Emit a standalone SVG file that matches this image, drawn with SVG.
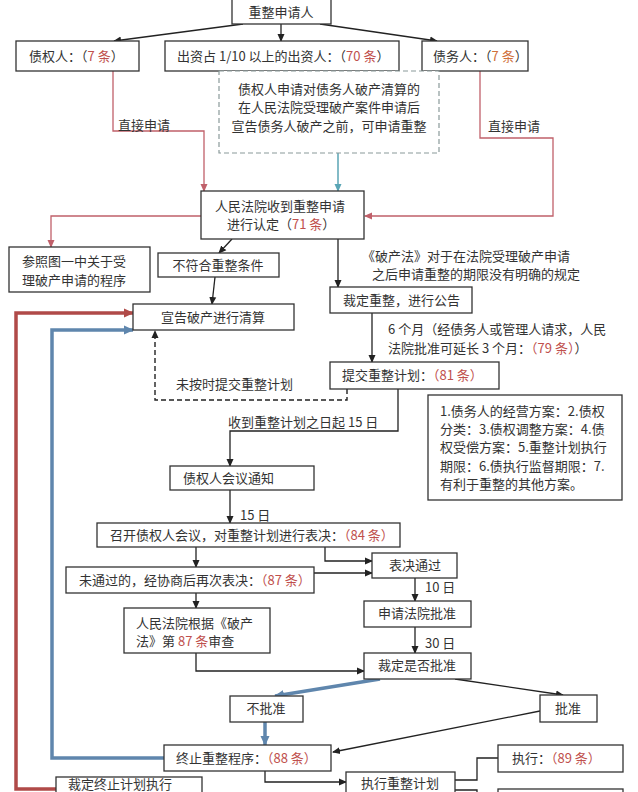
<svg xmlns="http://www.w3.org/2000/svg" width="638" height="792" viewBox="0 0 638 792">
<style>
text{font-family:"Noto Sans CJK SC","Liberation Sans",sans-serif;font-size:13px;fill:#333}
.m{text-anchor:middle}
.r{fill:#c0504d}
.box{fill:#fff;stroke:#333;stroke-width:1.3}
.dbox{fill:#fff;stroke:#8a9a9a;stroke-width:1.2;stroke-dasharray:5 3}
.k{fill:none;stroke:#222;stroke-width:1.3}
.kd{fill:none;stroke:#222;stroke-width:1.4;stroke-dasharray:5 3}
.pr{fill:none;stroke:#c0606a;stroke-width:1.3}
.tl{fill:none;stroke:#5aa5b5;stroke-width:1.5}
.rt{fill:none;stroke:#b04a48;stroke-width:3.5}
.bt{fill:none;stroke:#5f86ad;stroke-width:3.5}
</style>
<defs>
<marker id="ak" markerWidth="8" markerHeight="8" refX="7" refY="4" orient="auto" markerUnits="userSpaceOnUse"><path d="M0,0.5 L8,4 L0,7.5 Z" fill="#222"/></marker>
<marker id="ar" markerWidth="8" markerHeight="8" refX="7" refY="4" orient="auto" markerUnits="userSpaceOnUse"><path d="M0,0.5 L8,4 L0,7.5 Z" fill="#c0606a"/></marker>
<marker id="at" markerWidth="8" markerHeight="8" refX="7" refY="4" orient="auto" markerUnits="userSpaceOnUse"><path d="M0,0.5 L8,4 L0,7.5 Z" fill="#5aa5b5"/></marker>
<marker id="art" markerWidth="10" markerHeight="10" refX="9" refY="5" orient="auto" markerUnits="userSpaceOnUse"><path d="M0,0.5 L10,5 L0,9.5 Z" fill="#b04a48"/></marker>
<marker id="abt" markerWidth="10" markerHeight="10" refX="9" refY="5" orient="auto" markerUnits="userSpaceOnUse"><path d="M0,0.5 L10,5 L0,9.5 Z" fill="#5f86ad"/></marker>
</defs>
<rect width="638" height="792" fill="#fff"/>

<g id="connectors">
<path class="k" d="M243,24 L114,41" marker-end="url(#ak)"/>
<path class="k" d="M281,24 L281,41" marker-end="url(#ak)"/>
<path class="k" d="M320,24 L437,41" marker-end="url(#ak)"/>
<path class="pr" d="M113,71 L113,131 L204,131 L204,191" marker-end="url(#ar)"/>
<path class="pr" d="M480,71 L480,138 L553,138 L553,216 L365,216" marker-end="url(#ar)"/>
<path class="tl" d="M338,153 L338,191" marker-end="url(#at)"/>
<path class="pr" d="M201,216 L51,216 L51,247" marker-end="url(#ar)"/>
<path class="k" d="M232,239 L219,253" marker-end="url(#ak)"/>
<path class="k" d="M215,277 L212,304" marker-end="url(#ak)"/>
<path class="k" d="M338,239 L338,287" marker-end="url(#ak)"/>
<path class="k" d="M372,313 L372,362" marker-end="url(#ak)"/>
<path class="kd" d="M347,389 L347,400 L155,400 L155,331" marker-end="url(#ak)"/>
<path class="k" d="M398,389 L398,431 L230,431 L230,466" marker-end="url(#ak)"/>
<path class="k" d="M230,490 L230,523" marker-end="url(#ak)"/>
<path class="k" d="M196,547 L196,567" marker-end="url(#ak)"/>
<path class="k" d="M325,547 L325,561 L372,561" marker-end="url(#ak)"/>
<path class="k" d="M314,573 L372,573" marker-end="url(#ak)"/>
<path class="k" d="M196,593 L196,608" marker-end="url(#ak)"/>
<path class="k" d="M415,578 L415,601" marker-end="url(#ak)"/>
<path class="k" d="M415,627 L415,653" marker-end="url(#ak)"/>
<path class="k" d="M196,653 L196,671 L364,671" marker-end="url(#ak)"/>
<path class="bt" d="M380,679 L275,696" marker-end="url(#abt)"/>
<path class="k" d="M455,679 L563,695" marker-end="url(#ak)"/>
<path class="bt" d="M265,722 L265,745" marker-end="url(#abt)"/>
<path class="k" d="M540,711 L333,752" marker-end="url(#ak)"/>
<path class="bt" d="M164,758 L52,758 L52,330 L133,330" marker-end="url(#abt)"/>
<path class="rt" d="M56,789 L16,789 L16,313 L133,313" marker-end="url(#art)"/>
<path class="k" d="M265,771 L265,782 L346,782" marker-end="url(#ak)"/>
<path class="k" d="M455,780 L477,780 L477,758 L498,758"/>
<path class="k" d="M455,790 L477,790 L477,795"/>
<text x="118" y="130">直接申请</text>
<text x="488" y="131">直接申请</text>
<text x="362" y="261">《破产法》对于在法院受理破产申请</text>
<text x="372" y="279">之后申请重整的期限没有明确的规定</text>
<text x="388" y="334">6 个月（经债务人或管理人请求，人民</text>
<text x="388" y="353">法院批准可延长 3 个月：<tspan class="r">（79 条）</tspan>）</text>
<text x="176" y="389">未按时提交重整计划</text>
<text x="228" y="427">收到重整计划之日起 15 日</text>
<text x="240" y="520">15 日</text>
<text x="425" y="592">10 日</text>
<text x="425" y="648">30 日</text>
</g>

<g id="n-applicant"><rect class="box" x="232" y="-1" width="99" height="25"/><text class="m" x="281" y="16.5">重整申请人</text></g>
<g id="n-creditor"><rect class="box" x="16" y="41" width="123" height="30"/><text x="29" y="60.5">债权人：（<tspan class="r">7 条</tspan>）</text></g>
<g id="n-investor"><rect class="box" x="165" y="41" width="234" height="30"/><text x="177" y="60.5">出资占 1/10 以上的出资人：（<tspan class="r">70 条</tspan>）</text></g>
<g id="n-debtor"><rect class="box" x="422" y="41" width="106" height="30"/><text x="433" y="60.5">债务人：（<tspan fill="#d0703a">7 条</tspan>）</text></g>
<g id="n-note-creditor"><rect class="dbox" x="219" y="71" width="220" height="82"/>
<text class="m" x="329" y="94">债权人申请对债务人破产清算的</text>
<text class="m" x="329" y="112">在人民法院受理破产案件申请后</text>
<text class="m" x="329" y="131">宣告债务人破产之前，可申请重整</text></g>
<g id="n-court"><rect class="box" x="201" y="191" width="163" height="48"/><text x="215" y="210.5">人民法院收到重整申请</text><text x="227" y="229">进行认定（<tspan class="r">71 条</tspan>）</text></g>
<g id="n-refer"><rect class="box" x="9" y="247" width="141" height="45"/><text x="22" y="266">参照图一中关于受</text><text x="22" y="285">理破产申请的程序</text></g>
<g id="n-unqualified"><rect class="box" x="158" y="253" width="121" height="24"/><text class="m" x="218" y="270">不符合重整条件</text></g>
<g id="n-liquidation"><rect class="box" x="133" y="304" width="161" height="26"/><text class="m" x="213" y="322">宣告破产进行清算</text></g>
<g id="n-ruling"><rect class="box" x="330" y="287" width="142" height="26"/><text x="343" y="305">裁定重整，进行公告</text></g>
<g id="n-submit"><rect class="box" x="330" y="362" width="169" height="27"/><text x="342" y="380">提交重整计划：<tspan class="r">（81 条）</tspan></text></g>
<g id="n-contents"><rect class="box" x="428" y="395" width="194" height="105"/>
<text x="440" y="416">1.债务人的经营方案：2.债权</text>
<text x="440" y="434">分类：3.债权调整方案：4.债</text>
<text x="440" y="452">权受偿方案：5.重整计划执行</text>
<text x="440" y="471">期限：6.债执行监督期限：7.</text>
<text x="440" y="489">有利于重整的其他方案。</text></g>
<g id="n-notice"><rect class="box" x="170" y="466" width="144" height="24"/><text x="183" y="483">债权人会议通知</text></g>
<g id="n-meeting"><rect class="box" x="97" y="523" width="303" height="24"/><text x="110" y="540">召开债权人会议，对重整计划进行表决：<tspan class="r">（84 条）</tspan></text></g>
<g id="n-passed"><rect class="box" x="372" y="553" width="85" height="25"/><text class="m" x="415" y="570">表决通过</text></g>
<g id="n-revote"><rect class="box" x="66" y="567" width="248" height="26"/><text x="79" y="585">未通过的，经协商后再次表决：<tspan class="r">（87 条）</tspan></text></g>
<g id="n-apply"><rect class="box" x="364" y="601" width="107" height="26"/><text class="m" x="417" y="618">申请法院批准</text></g>
<g id="n-review"><rect class="box" x="124" y="608" width="146" height="45"/><text x="136" y="628">人民法院根据《破产</text><text x="136" y="646">法》第 <tspan class="r">87 条</tspan>审查</text></g>
<g id="n-decide"><rect class="box" x="364" y="653" width="107" height="26"/><text class="m" x="417" y="670">裁定是否批准</text></g>
<g id="n-reject"><rect class="box" x="230" y="696" width="73" height="26"/><text class="m" x="266" y="713">不批准</text></g>
<g id="n-approve"><rect class="box" x="540" y="695" width="57" height="27"/><text class="m" x="568" y="713">批准</text></g>
<g id="n-terminate"><rect class="box" x="164" y="745" width="167" height="26"/><text x="176" y="763">终止重整程序：<tspan class="r">（88 条）</tspan></text></g>
<g id="n-execute"><rect class="box" x="498" y="745" width="125" height="27"/><text x="512" y="763">执行：<tspan class="r">（89 条）</tspan></text></g>
<g id="n-implement"><rect class="box" x="346" y="772" width="109" height="30"/><text class="m" x="400" y="788" font-size="12">执行重整计划</text></g>
<g id="n-lower-right"><rect class="box" x="498" y="789" width="125" height="20"/></g>
<g id="n-stop"><rect class="box" x="56" y="777" width="146" height="30"/><text x="68" y="789" font-size="12">裁定终止计划执行</text></g>
</svg>
